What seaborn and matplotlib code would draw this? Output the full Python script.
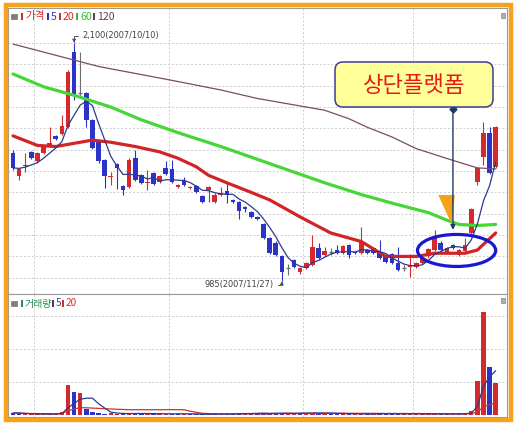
import numpy as np
import pandas as pd
import matplotlib
matplotlib.use("Agg")
import matplotlib.pyplot as plt
import seaborn as sns
from matplotlib.patches import FancyBboxPatch, Ellipse, Rectangle

sns.set_theme(style="white")
plt.rcParams['font.family'] = ['Noto Sans CJK KR', 'DejaVu Sans']

# daily candles (price, won)
opens = [1585, 1475, 1525, 1590, 1545, 1585, 1620, 1665, 1675, 1705,
         2060, 1865, 1865, 1740, 1635, 1550, 1470, 1535, 1430, 1425,
         1560, 1480, 1445, 1490, 1450, 1515, 1510, 1425, 1455, 1420,
         1430, 1385, 1410, 1355, 1390, 1405, 1365, 1355, 1330, 1310,
         1285, 1250, 1185, 1165, 1100, 1045, 1085, 1025, 1045, 1060,
         1140, 1105, 1120, 1130, 1115, 1155, 1120, 1115, 1130, 1140,
         1115, 1100, 1110, 1070, 1045, 1050, 1050, 1070, 1100, 1130,
         1165, 1120, 1155, 1105, 1125, 1210, 1450, 1565, 1680, 1520]
highs = [1600, 1515, 1585, 1595, 1590, 1620, 1705, 1670, 1765, 1975,
         2100, 2060, 1870, 1745, 1640, 1555, 1495, 1540, 1435, 1560,
         1600, 1485, 1505, 1495, 1480, 1545, 1550, 1440, 1470, 1430,
         1435, 1390, 1430, 1395, 1425, 1450, 1370, 1360, 1335, 1315,
         1290, 1255, 1190, 1170, 1105, 1065, 1090, 1050, 1075, 1200,
         1165, 1145, 1140, 1155, 1155, 1160, 1125, 1240, 1135, 1145,
         1175, 1105, 1115, 1145, 1060, 1110, 1075, 1100, 1140, 1225,
         1170, 1145, 1160, 1135, 1185, 1325, 1520, 1730, 1705, 1710]
lows = [1505, 1460, 1495, 1555, 1540, 1580, 1615, 1645, 1670, 1700,
        1835, 1845, 1705, 1605, 1540, 1420, 1435, 1415, 1390, 1420,
        1455, 1440, 1410, 1435, 1445, 1480, 1445, 1420, 1430, 1415,
        1395, 1350, 1355, 1350, 1385, 1350, 1350, 1275, 1310, 1280,
        1270, 1180, 1110, 1100, 985, 1015, 1045, 1020, 1040, 1055,
        1090, 1100, 1105, 1110, 1110, 1095, 1110, 1110, 1110, 1110,
        1090, 1070, 1065, 1030, 1030, 1005, 1045, 1065, 1095, 1125,
        1125, 1115, 1135, 1100, 1120, 1205, 1435, 1530, 1485, 1515]
closes = [1515, 1510, 1530, 1560, 1585, 1615, 1630, 1650, 1710, 1965,
          1855, 1865, 1740, 1610, 1545, 1475, 1475, 1515, 1410, 1550,
          1460, 1445, 1450, 1440, 1475, 1485, 1450, 1435, 1435, 1425,
          1400, 1355, 1425, 1390, 1395, 1390, 1355, 1315, 1320, 1285,
          1275, 1185, 1115, 1105, 1025, 1045, 1050, 1045, 1070, 1145,
          1095, 1125, 1120, 1115, 1150, 1105, 1115, 1170, 1115, 1115,
          1095, 1075, 1070, 1035, 1045, 1060, 1070, 1095, 1135, 1185,
          1130, 1140, 1140, 1130, 1155, 1320, 1515, 1680, 1490, 1705]
# volume (thousand shares)
volumes = [60, 55, 30, 25, 30, 35, 30, 40, 80, 910,
           700, 665, 180, 95, 65, 45, 50, 35, 45, 40,
           55, 50, 30, 35, 30, 40, 35, 45, 30, 25,
           30, 25, 30, 25, 30, 35, 30, 70, 45, 40,
           65, 60, 40, 60, 55, 70, 45, 55, 75, 60,
           70, 45, 40, 35, 45, 30, 35, 30, 40, 35,
           45, 30, 35, 30, 50, 35, 45, 30, 35, 30,
           40, 30, 35, 30, 55, 130, 1030, 3120, 1455, 970]

# long moving averages (index, price)
ma20_idx = [0, 4, 7, 10, 13, 16, 20, 24, 27, 30, 32, 35, 39, 42, 47, 52, 57, 59, 61, 66, 69, 74, 76, 79]
ma20_val = [1665, 1620, 1615, 1630, 1645, 1635, 1615, 1590, 1560, 1520, 1480, 1445, 1400, 1365,
            1285, 1210, 1170, 1135, 1100, 1100, 1115, 1115, 1130, 1210]
ma60_idx = [0, 5, 10, 16, 21, 27, 34, 39, 46, 51, 57, 62, 68, 71, 73, 76, 79]
ma60_val = [1955, 1895, 1855, 1800, 1740, 1680, 1615, 1565, 1495, 1445, 1390, 1350, 1305,
            1270, 1250, 1245, 1250]
ma120_idx = [0, 8, 14, 26, 34, 40, 46, 51, 55, 58, 62, 66, 72, 76, 79]
ma120_val = [2095, 2035, 1990, 1925, 1880, 1840, 1810, 1785, 1745, 1705, 1660, 1605, 1550, 1515, 1510]

month_starts = [4, 26, 48, 66]
price_grid = list(range(1000, 2200, 100))
vol_grid = [1000, 2000, 3000]

df = pd.DataFrame({'open': opens, 'high': highs, 'low': lows, 'close': closes, 'vol': volumes})
df['i'] = np.arange(len(df))
df['ma5'] = df['close'].rolling(5, min_periods=1).mean()
df['vma5'] = df['vol'].rolling(5, min_periods=1).mean()
df['vma20'] = df['vol'].rolling(20, min_periods=1).mean()

RED = '#D42A2C'
BLUE = '#2B34C6'
GREY = '#6E6E6E'
GRID = '#CDCDCD'
ORANGE = '#F6A21C'

W, H = 520, 425
fig = plt.figure(figsize=(W / 100, H / 100), dpi=100)


def fx(x):
    return x / W


def fy(y):
    return 1 - y / H


ax = fig.add_axes([fx(8), fy(294), (507 - 8) / W, (294 - 8) / H])
axv = fig.add_axes([fx(8), fy(417), (507 - 8) / W, (417 - 294) / H])

for a in (ax, axv):
    a.set_xlim(-0.82, 80.85)
    a.set_xticks([])
    a.set_yticks([])
    for s in a.spines.values():
        s.set_color('#9A9A9A')
        s.set_linewidth(0.8)
    for m in month_starts:
        a.axvline(m - 0.5, color=GRID, lw=0.7, ls=(0, (2, 2)), zorder=0)

ax.set_ylim(924, 2264)
axv.set_ylim(-61, 3667)
for p in price_grid:
    ax.axhline(p, color=GRID, lw=0.7, ls=(0, (2, 2)), zorder=0)
for v in vol_grid:
    axv.axhline(v, color=GRID, lw=0.7, ls=(0, (2, 2)), zorder=0)

# candles
for r in df.itertuples():
    if r.close > r.open:
        c = RED
    elif r.close < r.open:
        c = BLUE
    else:
        c = GREY
    ax.vlines(r.i, r.low, r.high, color=c, lw=0.8, zorder=2)
    if r.close == r.open:
        ax.hlines(r.close, r.i - 0.36, r.i + 0.36, color=c, lw=1.0, zorder=2)
    else:
        ax.bar(r.i, abs(r.close - r.open), bottom=min(r.open, r.close), width=0.75,
               color=c, linewidth=0, zorder=2)

# moving averages
sns.lineplot(x=ma120_idx, y=ma120_val, ax=ax, color='#7A4A6C', lw=0.9, zorder=3)
sns.lineplot(x=ma60_idx, y=ma60_val, ax=ax, color='#46D637', lw=2.3, zorder=3)
sns.lineplot(x=ma20_idx, y=ma20_val, ax=ax, color='#D02426', lw=2.3, zorder=3)
sns.lineplot(data=df, x='i', y='ma5', ax=ax, color='#2C3A8C', lw=0.9, zorder=4)

# volume bars: red when close rises vs previous close
prev = df['close'].shift(1).fillna(df['open'])
vcol = [RED if c >= p else BLUE for c, p in zip(df['close'], prev)]
axv.bar(df['i'], df['vol'], width=0.72, color=vcol, linewidth=0, zorder=2)
sns.lineplot(data=df, x='i', y='vma20', ax=axv, color='#D03030', lw=0.9, zorder=3)
sns.lineplot(data=df, x='i', y='vma5', ax=axv, color='#2C3A8C', lw=0.9, zorder=3)
for a in (ax, axv):
    a.set_xlabel('')
    a.set_ylabel('')

# high / low annotations
num_font = dict(family=['DejaVu Sans'], fontstretch='condensed', fontsize=6.6, color='#404048')
ax.annotate('2,100(2007/10/10)', xy=(10, 2100), xytext=(11.4, 2133), ha='left', va='center',
            arrowprops=dict(arrowstyle='-|>', connectionstyle='angle,angleA=0,angleB=90',
                            relpos=(0, 0.5), shrinkA=1, shrinkB=0, color='#505060',
                            lw=0.7, mutation_scale=5), **num_font)
ax.annotate('985(2007/11/27)', xy=(44, 985), xytext=(42.6, 968), ha='right', va='center',
            arrowprops=dict(arrowstyle='-|>', connectionstyle='angle,angleA=0,angleB=90',
                            relpos=(1, 0.5), shrinkA=1, shrinkB=0, color='#505060',
                            lw=0.7, mutation_scale=5), **num_font)

# upper platform callout
ax.add_patch(Ellipse((72.6, 1128), 12.8, 150, fill=False, edgecolor='#1818D0', lw=2.3, zorder=5))
ax.fill([69.6, 72.3, 71.8], [1388, 1388, 1250], color='#F7A11A', zorder=5, lw=0)
ax.annotate('', xy=(72, 1224), xytext=(72, 1791),
            arrowprops=dict(arrowstyle='-|>', color='#1E3A60', lw=1.0, mutation_scale=7,
                            shrinkA=0, shrinkB=0), zorder=6)
ax.plot([72], [1791], marker='D', ms=3.5, color='#1E3A60', zorder=6)

fig.patches.append(FancyBboxPatch((335 / 100, (H - 107) / 100), 1.58, 0.45,
                                  boxstyle='round,pad=0,rounding_size=0.08',
                                  facecolor='#FFFF99', edgecolor='#3C3C96', lw=1.1,
                                  transform=fig.dpi_scale_trans, zorder=5))
fig.text(414 / 100, (H - 86) / 100, '상단플랫폼', transform=fig.dpi_scale_trans,
         ha='center', va='center', fontsize=16, color='#E41B17', fontweight='medium', zorder=6)


# legends
def legend_row(y, items, size):
    fig.patches.append(Rectangle((fx(11), fy(y + 3)), 6 / W, 5 / H, transform=fig.transFigure,
                                 facecolor='#808080', edgecolor='#606060', lw=0.4))
    for x, bar_color, label, text_color in items:
        fig.patches.append(Rectangle((fx(x), fy(y + 4)), 2 / W, 7 / H, transform=fig.transFigure,
                                     facecolor=bar_color, lw=0))
        fig.text(fx(x + 4), fy(y + 0.5), label, ha='left', va='center', fontsize=size,
                 color=text_color)


legend_row(16, [(21, RED, '가격', RED), (47, BLUE, '5', BLUE), (59, RED, '20', RED),
                (76, '#33BB33', '60', '#33BB33'), (93, '#6B3A5A', '120', '#6B3A5A')], 7.6)
legend_row(303, [(21, '#2E8B57', '거래량', '#2E8B57'), (52, '#404080', '5', '#404080'),
                 (62, RED, '20', RED)], 7.2)

# small panel buttons on the right
for yb in (13, 298):
    fig.patches.append(Rectangle((fx(501), fy(yb + 5)), 4 / W, 5 / H, transform=fig.transFigure,
                                 facecolor='#B0B0B0', edgecolor='#707070', lw=0.4))

# outer orange frame
fig.patches.append(Rectangle((fx(6), fy(420)), (511 - 6) / W, (420 - 5) / H,
                             transform=fig.transFigure, fill=False, edgecolor=ORANGE, lw=3.2,
                             zorder=10))

fig.savefig('out.png', dpi=100)
